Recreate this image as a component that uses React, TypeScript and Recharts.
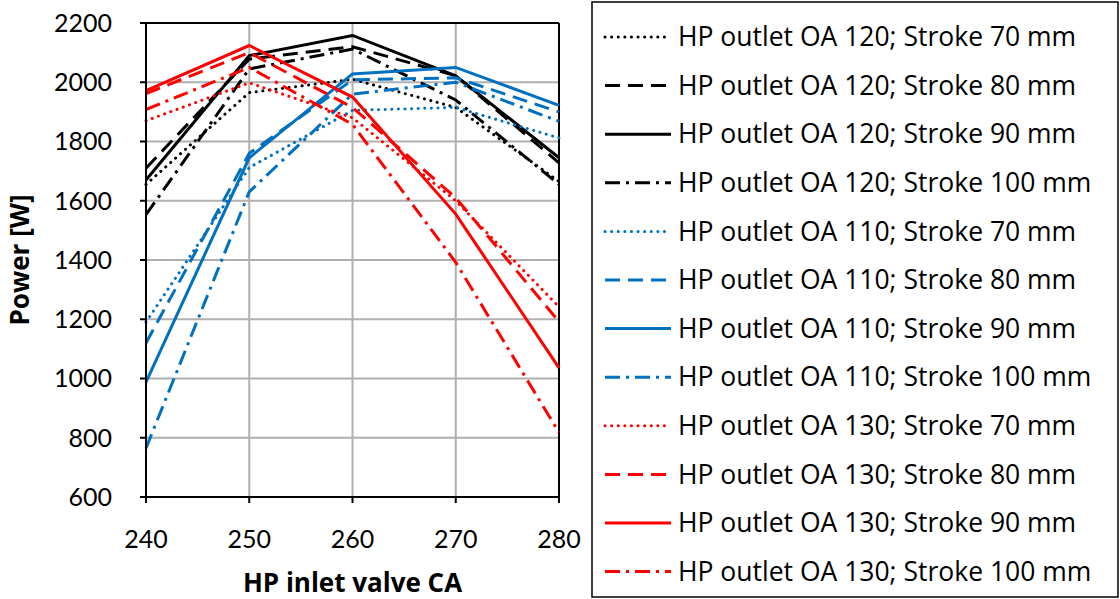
import React from 'react';
import {
  LineChart, Line, XAxis, YAxis, CartesianGrid, ReferenceLine, Label,
} from 'recharts';

// HP inlet valve CA (x) and power [W] per series
const inletCA = [240, 250, 260, 270, 280];
const yTicks = [600, 800, 1000, 1200, 1400, 1600, 1800, 2000, 2200];

const oa120s70 = [1655, 1965, 2010, 1915, 1665];
const oa120s80 = [1710, 2078, 2120, 2022, 1728];
const oa120s90 = [1670, 2090, 2158, 2022, 1745];
const oa120s100 = [1553, 2045, 2112, 1940, 1655];
const oa110s70 = [1190, 1712, 1905, 1915, 1812];
const oa110s80 = [1120, 1760, 2008, 2015, 1900];
const oa110s90 = [988, 1745, 2028, 2050, 1922];
const oa110s100 = [765, 1630, 1960, 2000, 1868];
const oa130s70 = [1870, 1998, 1880, 1600, 1242];
const oa130s80 = [1962, 2100, 1915, 1610, 1192];
const oa130s90 = [1972, 2124, 1950, 1555, 1036];
const oa130s100 = [1908, 2050, 1858, 1392, 818];

const BLACK = '#000000';
const BLUE = '#0070C0';
const RED = '#FF0000';

const DOT = '0.1 6.5';
const DASH = '15 8';
const DASHDOT = '15 6 3 6';
const SOLID = undefined;

const series = [
  { key: 'a', name: 'HP outlet OA 120; Stroke 70 mm', values: oa120s70, color: BLACK, dash: DOT },
  { key: 'b', name: 'HP outlet OA 120; Stroke 80 mm', values: oa120s80, color: BLACK, dash: DASH },
  { key: 'c', name: 'HP outlet OA 120; Stroke 90 mm', values: oa120s90, color: BLACK, dash: SOLID },
  { key: 'd', name: 'HP outlet OA 120; Stroke 100 mm', values: oa120s100, color: BLACK, dash: DASHDOT },
  { key: 'e', name: 'HP outlet OA 110; Stroke 70 mm', values: oa110s70, color: BLUE, dash: DOT },
  { key: 'f', name: 'HP outlet OA 110; Stroke 80 mm', values: oa110s80, color: BLUE, dash: DASH },
  { key: 'g', name: 'HP outlet OA 110; Stroke 90 mm', values: oa110s90, color: BLUE, dash: SOLID },
  { key: 'h', name: 'HP outlet OA 110; Stroke 100 mm', values: oa110s100, color: BLUE, dash: DASHDOT },
  { key: 'i', name: 'HP outlet OA 130; Stroke 70 mm', values: oa130s70, color: RED, dash: DOT },
  { key: 'j', name: 'HP outlet OA 130; Stroke 80 mm', values: oa130s80, color: RED, dash: DASH },
  { key: 'k', name: 'HP outlet OA 130; Stroke 90 mm', values: oa130s90, color: RED, dash: SOLID },
  { key: 'l', name: 'HP outlet OA 130; Stroke 100 mm', values: oa130s100, color: RED, dash: DASHDOT },
];

const FONT = 'Lato, "Open Sans", sans-serif';
const WIDE = '"Open Sans", Lato, sans-serif';

function LegendBox() {
  const step = 48.6;
  return (
    <svg width={528} height={597} style={{ position: 'absolute', left: 591, top: 1 }}>
      <rect x={1} y={1} width={526} height={595} fill="#fff" stroke="#000" strokeWidth={1.5} />
      {series.map((s, i) => {
        const y = 36 + i * step;
        return (
          <g key={s.key}>
            <line
              x1={14} x2={80} y1={y} y2={y}
              stroke={s.color} strokeWidth={3}
              strokeDasharray={s.dash}
              strokeLinecap={s.dash === DOT ? 'round' : 'butt'}
            />
            <text x={87} y={y} dy="0.35em" fontFamily={WIDE} fontSize={26.5} fill="#000">{s.name}</text>
          </g>
        );
      })}
    </svg>
  );
}

export default function App() {
  const data = inletCA.map((ca, i) => {
    const row: Record<string, number> = { ca };
    series.forEach(s => { row[s.key] = s.values[i]; });
    return row;
  });

  return (
    <div style={{ position: 'absolute', left: 0, top: 0, width: 1120, height: 599, background: '#fff' }}>
      <LineChart
        width={1120}
        height={599}
        data={data}
        margin={{ top: 23, right: 561, bottom: 2, left: 0 }}
      >
        <CartesianGrid stroke="#b0b0b0" strokeWidth={2} />
        <XAxis
          dataKey="ca"
          type="number"
          domain={[240, 280]}
          ticks={inletCA}
          height={100}
          axisLine={{ stroke: '#000', strokeWidth: 2 }}
          tickLine={{ stroke: '#000', strokeWidth: 2 }}
          tickSize={6}
          tickMargin={27}
          tick={{ fill: '#000', fontSize: 25, fontFamily: FONT }}
        >
          <Label
            value="HP inlet valve CA"
            position="insideBottom"
            offset={5}
            style={{ fill: '#000', fontSize: 26, fontWeight: 700, fontFamily: WIDE }}
          />
        </XAxis>
        <YAxis
          type="number"
          domain={[600, 2200]}
          ticks={yTicks}
          width={146}
          interval={0}
          axisLine={{ stroke: '#000', strokeWidth: 2 }}
          tickLine={{ stroke: '#000', strokeWidth: 2 }}
          tickSize={6}
          tickMargin={28}
          tick={{ fill: '#000', fontSize: 25, fontFamily: FONT }}
        >
          <Label
            value="Power [W]"
            angle={-90}
            position="insideLeft"
            offset={20}
            style={{ fill: '#000', fontSize: 26, fontWeight: 700, fontFamily: WIDE, textAnchor: 'middle' }}
          />
        </YAxis>
        <ReferenceLine y={2200} stroke="#000" strokeWidth={2} />
        <ReferenceLine x={280} stroke="#000" strokeWidth={2} />
        {series.map(s => (
          <Line
            key={s.key}
            dataKey={s.key}
            name={s.name}
            type="linear"
            stroke={s.color}
            strokeWidth={3}
            strokeDasharray={s.dash}
            strokeLinecap={s.dash === DOT ? 'round' : 'butt'}
            dot={false}
            activeDot={false}
            isAnimationActive={false}
          />
        ))}
      </LineChart>
      <LegendBox />
    </div>
  );
}
